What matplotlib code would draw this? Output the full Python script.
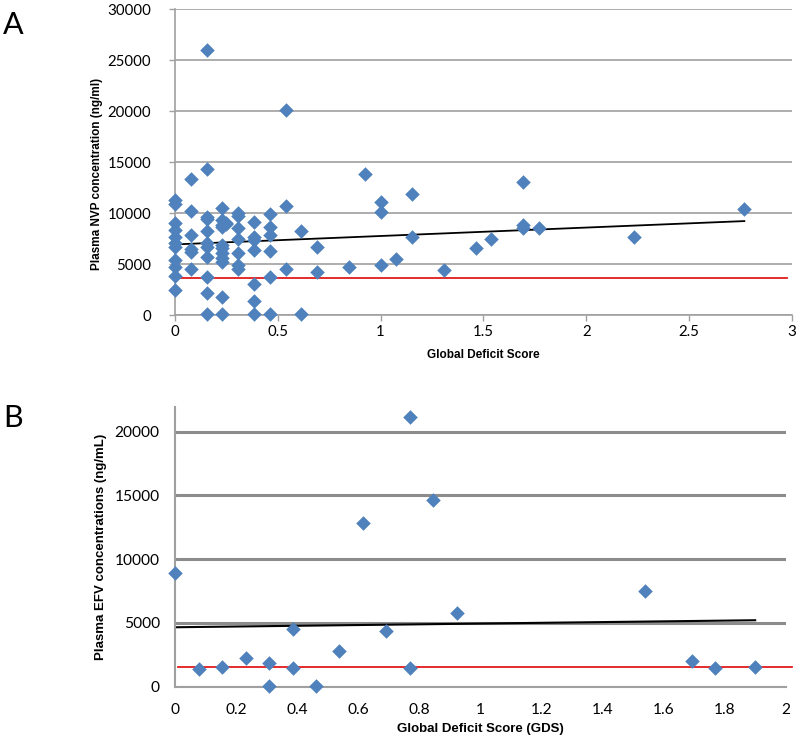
import matplotlib
matplotlib.use('Agg')
import matplotlib.pyplot as plt
import numpy as np

# panel A: NVP vs GDS
gds_a = [0, 0, 0, 0, 0, 0, 0, 0, 0, 0, 0,
         0.077, 0.077, 0.077, 0.077, 0.077, 0.077,
         0.154, 0.154, 0.154, 0.154, 0.154, 0.154, 0.154, 0.154, 0.154, 0.154, 0.154,
         0.231, 0.231, 0.231, 0.231, 0.231, 0.231, 0.231, 0.231, 0.231, 0.231, 0.231, 0.25, 0.25,
         0.308, 0.308, 0.308, 0.308, 0.308, 0.308, 0.308,
         0.385, 0.385, 0.385, 0.385, 0.385, 0.385, 0.385,
         0.462, 0.462, 0.462, 0.462, 0.462, 0.462,
         0.538, 0.538, 0.538,
         0.615, 0.615,
         0.692, 0.692,
         0.846, 0.923,
         1.0, 1.0, 1.0,
         1.077, 1.154, 1.154, 1.308, 1.462, 1.538,
         1.692, 1.692, 1.692, 1.769, 2.231, 2.769]
nvp = [11280, 10890, 9050, 8340, 7620, 7030, 6700, 5400, 4740, 3830, 2450,
       13340, 10230, 7880, 6440, 6180, 4480,
       26060, 14320, 9640, 9450, 8210, 7030, 6700, 5720, 3760, 2190, 70,
       10460, 9320, 8660, 6870, 6540, 6050, 5560, 5230, 1740, 70, 8830, 9000, 8900,
       10030, 9710, 8560, 7490, 6050, 4900, 4480,
       9150, 7680, 7360, 6380, 3010, 1400, 70,
       9910, 8660, 7820, 6310, 3760, 70,
       20110, 10690, 4480,
       8240, 70,
       6700, 4250,
       4740, 13860,
       11090, 10100, 4900,
       5460, 11840, 7620, 4410, 6570, 7490,
       13080, 8830, 8560, 8500, 7680, 10370]
trend_a_x = [0, 2.769]
trend_a_y = [6930, 9220]
limit_a_x = [0.02, 2.977]
limit_a_y = [3660, 3660]

# panel B: EFV vs GDS
gds_b = [0, 0.077, 0.154, 0.231, 0.308, 0.308, 0.385, 0.385, 0.462, 0.538,
         0.615, 0.692, 0.769, 0.769, 0.846, 0.923, 1.538, 1.692, 1.769, 1.9]
efv = [8940, 1360, 1520, 2230, 1880, 50, 4550, 1470, 50, 2770,
       12860, 4340, 21130, 1440, 14620, 5800, 7530, 2020, 1490, 1520]
trend_b_x = [0, 1.9]
trend_b_y = [4660, 5210]
limit_b_x = [0.01, 2.02]
limit_b_y = [1550, 1550]

blue = '#4f81bd'
tickfont = 'Lato'
labfont = 'Liberation Sans'

fig = plt.figure(figsize=(8, 7.43), dpi=100)

# ---- A ----
ax = fig.add_axes([0.21875, 0.576, 0.771, 0.4114])
ax.set_xlim(0, 3)
ax.set_ylim(0, 30000)
ax.set_yticks(np.arange(0, 30001, 5000))
ax.set_xticks([0, 0.5, 1, 1.5, 2, 2.5, 3])
ax.set_xticklabels(['0', '0.5', '1', '1.5', '2', '2.5', '3'])
ax.grid(axis='y', color='#a0a0a0', lw=1.2)
ax.set_axisbelow(True)
for s in ['top', 'right']:
    ax.spines[s].set_visible(False)
for s in ['left', 'bottom']:
    ax.spines[s].set_color('#a0a0a0')
    ax.spines[s].set_linewidth(1.2)
ax.tick_params(colors='#a0a0a0', length=4, width=1, labelcolor='black', labelsize=10.8)
ax.tick_params(axis='y', pad=13)
for t in ax.get_xticklabels() + ax.get_yticklabels():
    t.set_family(tickfont)
ax.plot(limit_a_x, limit_a_y, color='#e31a1c', lw=1.3, zorder=2)
ax.plot(trend_a_x, trend_a_y, color='black', lw=1.3, zorder=2)
ax.scatter(gds_a, nvp, marker='D', s=55, color=blue, zorder=3, clip_on=False, linewidths=0)
ax.set_xlabel('Global Deficit Score', family=labfont, fontweight='bold', fontsize=8.5, labelpad=7)
ax.set_ylabel('Plasma NVP concentration (ng/ml)', family=labfont, fontweight='bold', fontsize=8.5)
ax.yaxis.set_label_coords(-0.117, 0.46)
fig.text(0.004, 0.966, 'A', family=tickfont, fontsize=22, va='center')

# ---- B ----
bx = fig.add_axes([0.21875, 0.0758, 0.7634, 0.3769])
bx.set_xlim(0, 2)
bx.set_ylim(0, 21960)
bx.set_yticks(np.arange(0, 20001, 5000))
bx.set_xticks(np.arange(0, 2.01, 0.2))
bx.set_xticklabels(['0', '0.2', '0.4', '0.6', '0.8', '1', '1.2', '1.4', '1.6', '1.8', '2'])
bx.grid(axis='y', color='#8c8c8c', lw=2.2)
bx.set_axisbelow(True)
for s in ['top', 'right']:
    bx.spines[s].set_visible(False)
for s in ['left', 'bottom']:
    bx.spines[s].set_color('#a0a0a0')
    bx.spines[s].set_linewidth(1.5)
bx.tick_params(length=0, labelsize=11.2, pad=11)
bx.tick_params(axis='x', pad=12)
for t in bx.get_xticklabels() + bx.get_yticklabels():
    t.set_family(tickfont)
bx.plot(limit_b_x, limit_b_y, color='#e31a1c', lw=1.3, zorder=2, clip_on=False)
bx.plot(trend_b_x, trend_b_y, color='black', lw=1.5, zorder=2)
bx.scatter(gds_b, efv, marker='D', s=55, color=blue, zorder=3, clip_on=False, linewidths=0)
bx.set_xlabel('Global Deficit Score (GDS)', family=labfont, fontweight='bold', fontsize=9.5, labelpad=4)
bx.set_ylabel('Plasma EFV concentrations (ng/mL)', family=labfont, fontweight='bold', fontsize=9.5)
bx.yaxis.set_label_coords(-0.111, 0.5)
fig.text(0.004, 0.438, 'B', family=tickfont, fontsize=22, va='center')

fig.savefig('out.png', dpi=100)
